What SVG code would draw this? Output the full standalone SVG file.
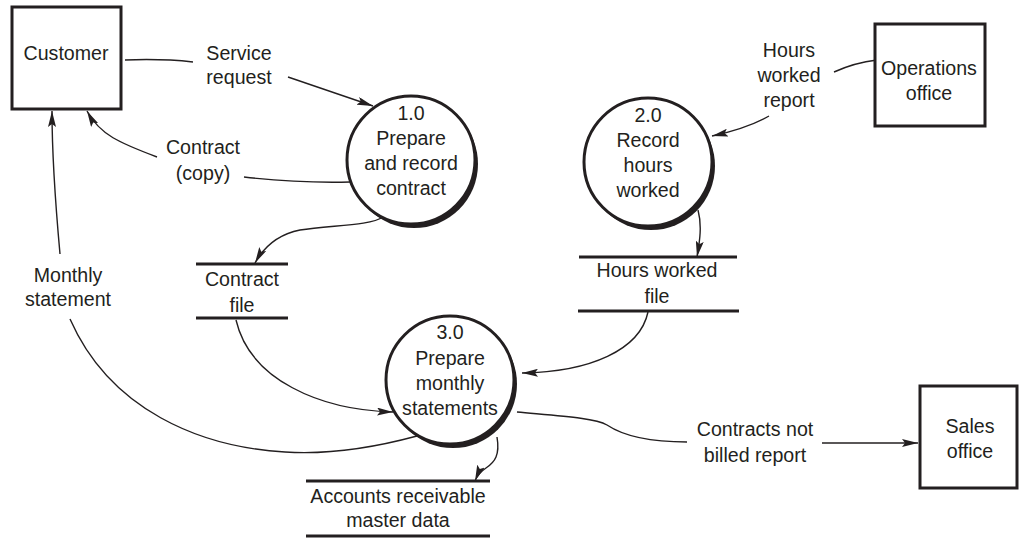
<svg xmlns="http://www.w3.org/2000/svg" width="1027" height="538" viewBox="0 0 1027 538">
<style>
text{font-family:"Liberation Sans",Arial,sans-serif;font-size:19.6px;fill:#231f20;text-anchor:middle}
.box{fill:#fff;stroke:#231f20;stroke-width:3}
.proc{fill:#fff;stroke:#231f20;stroke-width:3}
.shadow{fill:#231f20}
.store{stroke:#231f20;stroke-width:3}
.flow{fill:none;stroke:#231f20;stroke-width:1.4}
</style>
<defs>
<marker id="ah" viewBox="0 0 16 8" refX="16" refY="4" markerWidth="16" markerHeight="8" markerUnits="userSpaceOnUse" orient="auto">
<path d="M0,0 L16,4 L0,8 L3,4 z" fill="#231f20"/>
</marker>
</defs>
<rect width="1027" height="538" fill="#fff"/>

<g id="connectors">
<path class="flow" d="M125,60 C150,59 175,60 193,62"/>
<path class="flow" d="M288,77 L373,106" marker-end="url(#ah)"/>
<path class="flow" d="M350,182 C310,183 270,180 244,177"/>
<path class="flow" d="M157,157 C120,143 100,135 87,111" marker-end="url(#ah)"/>
<path class="flow" d="M383,217 C370,226 330,225 300,230 C280,234 265,245 255,263" marker-end="url(#ah)"/>
<path class="flow" d="M60,254 C56,210 52,160 52,111" marker-end="url(#ah)"/>
<path class="flow" d="M417,436 C380,446 330,455 285,452 C200,447 110,410 70,319"/>
<path class="flow" d="M236,320 C250,380 320,410 393,412" marker-end="url(#ah)"/>
<path class="flow" d="M877,60 C860,62 845,67 834,72"/>
<path class="flow" d="M769,116 C755,124 735,131 712,136" marker-end="url(#ah)"/>
<path class="flow" d="M698,210 C702,225 700,240 697,257" marker-end="url(#ah)"/>
<path class="flow" d="M648,312 C640,350 590,372 522,373" marker-end="url(#ah)"/>
<path class="flow" d="M497,437 C500,455 495,462 486,468 C480,472 477,476 475,481" marker-end="url(#ah)"/>
<path class="flow" d="M517,412 C560,416 595,418 607,425 C625,437 650,442 687,442"/>
<path class="flow" d="M822,443 L918,443" marker-end="url(#ah)"/>
<text x="239" y="60">Service</text>
<text x="239" y="84">request</text>
<text x="203" y="154">Contract</text>
<text x="203" y="180">(copy)</text>
<text x="68" y="282">Monthly</text>
<text x="68" y="306">statement</text>
<text x="789" y="57">Hours</text>
<text x="789" y="82">worked</text>
<text x="789" y="107">report</text>
<text x="755" y="436">Contracts not</text>
<text x="755" y="462">billed report</text>
</g>

<g id="customer">
<rect class="box" x="12" y="7" width="109" height="102"/>
<text x="66" y="60">Customer</text>
</g>

<g id="operations">
<rect class="box" x="875" y="24" width="110" height="102"/>
<text x="929" y="75">Operations</text>
<text x="929" y="100">office</text>
</g>

<g id="sales">
<rect class="box" x="920" y="386" width="97" height="102"/>
<text x="970" y="433">Sales</text>
<text x="970" y="458">office</text>
</g>

<g id="p1">
<circle class="shadow" cx="414" cy="164" r="64"/>
<circle class="proc" cx="411" cy="160" r="64"/>
<text x="411" y="120">1.0</text>
<text x="411" y="145">Prepare</text>
<text x="411" y="170">and record</text>
<text x="411" y="195">contract</text>
</g>

<g id="p2">
<circle class="shadow" cx="651" cy="166" r="64"/>
<circle class="proc" cx="648" cy="162" r="64"/>
<text x="648" y="122">2.0</text>
<text x="648" y="147">Record</text>
<text x="648" y="172">hours</text>
<text x="648" y="197">worked</text>
</g>

<g id="p3">
<circle class="shadow" cx="453" cy="384" r="64"/>
<circle class="proc" cx="450" cy="380" r="64"/>
<text x="450" y="339">3.0</text>
<text x="450" y="365">Prepare</text>
<text x="450" y="390">monthly</text>
<text x="450" y="415">statements</text>
</g>

<g id="contract-file">
<line class="store" x1="196" y1="264" x2="288" y2="264"/>
<line class="store" x1="196" y1="318" x2="288" y2="318"/>
<text x="242" y="286">Contract</text>
<text x="242" y="312">file</text>
</g>

<g id="hours-file">
<line class="store" x1="579" y1="257" x2="737" y2="257"/>
<line class="store" x1="578" y1="311" x2="739" y2="311"/>
<text x="657" y="277">Hours worked</text>
<text x="657" y="303">file</text>
</g>

<g id="ar-file">
<line class="store" x1="306" y1="481" x2="490" y2="481"/>
<line class="store" x1="306" y1="536" x2="490" y2="536"/>
<text x="398" y="503">Accounts receivable</text>
<text x="398" y="527">master data</text>
</g>
</svg>
